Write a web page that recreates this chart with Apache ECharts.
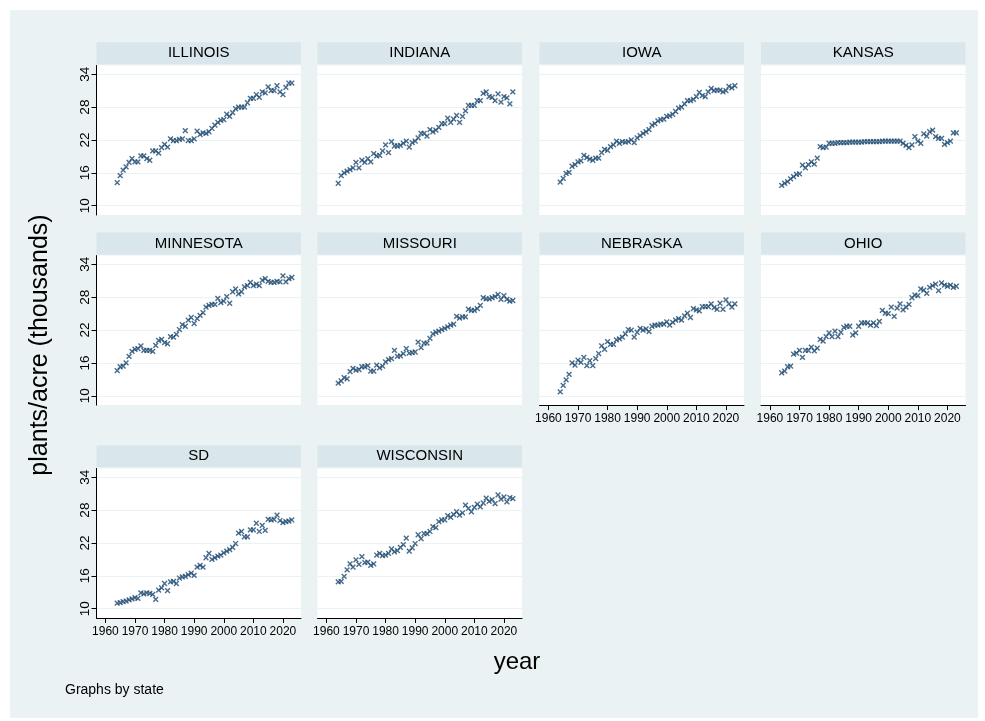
<!DOCTYPE html>
<html>
<head>
<meta charset="utf-8">
<script src="https://cdn.jsdelivr.net/npm/echarts@6/dist/echarts.min.js"></script>
<style>
  html, body { margin: 0; padding: 0; background: #ffffff; }
  #wrap { position: relative; width: 985px; height: 721px; background: #ffffff; }
  #region { position: absolute; left: 10px; top: 10px; width: 968px; height: 708px; background: #eaf2f3; }
  #chart { position: absolute; left: 0; top: 0; width: 985px; height: 721px; }
</style>
</head>
<body>
<div id="wrap">
  <div id="region"></div>
  <div id="chart"></div>
</div>
<script>
// Corn plant population (thousand plants per acre) by state, 1964-2023
const years = [
  1964, 1965, 1966, 1967, 1968, 1969, 1970, 1971, 1972, 1973,
  1974, 1975, 1976, 1977, 1978, 1979, 1980, 1981, 1982, 1983,
  1984, 1985, 1986, 1987, 1988, 1989, 1990, 1991, 1992, 1993,
  1994, 1995, 1996, 1997, 1998, 1999, 2000, 2001, 2002, 2003,
  2004, 2005, 2006, 2007, 2008, 2009, 2010, 2011, 2012, 2013,
  2014, 2015, 2016, 2017, 2018, 2019, 2020, 2021, 2022, 2023
];

const states = ['ILLINOIS', 'INDIANA', 'IOWA', 'KANSAS', 'MINNESOTA',
                'MISSOURI', 'NEBRASKA', 'OHIO', 'SD', 'WISCONSIN'];

const illinois = [
  14.2, 15.5, 16.5, 17.1, 17.9, 18.6, 18.0, 18.0, 19.1, 19.1,
  18.6, 18.3, 20.0, 20.0, 19.6, 20.6, 21.2, 20.7, 22.2, 21.9,
  21.9, 22.1, 22.2, 23.7, 21.9, 21.9, 22.2, 23.6, 23.0, 23.3,
  23.2, 23.5, 24.1, 24.7, 25.2, 25.6, 25.7, 26.7, 26.3, 27.0,
  27.7, 28.0, 28.0, 28.0, 28.8, 29.6, 29.6, 30.3, 29.8, 30.8,
  30.6, 31.7, 31.0, 31.0, 31.9, 30.8, 30.3, 31.6, 32.4, 32.4
];
const indiana = [
  14.1, 15.5, 16.0, 16.3, 16.6, 16.9, 17.9, 16.9, 18.3, 17.9,
  18.6, 18.0, 19.5, 19.1, 19.2, 20.0, 21.1, 19.7, 21.7, 20.9,
  20.9, 21.0, 21.4, 21.8, 20.7, 21.5, 21.8, 22.4, 23.2, 23.2,
  22.7, 23.9, 23.5, 23.8, 24.3, 25.0, 25.0, 26.0, 25.2, 25.8,
  26.5, 25.2, 26.3, 27.3, 28.3, 28.3, 28.3, 29.2, 29.2, 30.5,
  30.8, 29.9, 29.8, 29.2, 30.4, 28.9, 29.9, 29.7, 28.6, 30.8
];
const iowa = [
  14.3, 15.0, 15.9, 16.1, 17.2, 17.5, 18.0, 18.2, 19.2, 18.8,
  18.5, 18.3, 18.7, 18.7, 19.7, 20.3, 20.1, 20.8, 21.1, 21.8,
  21.4, 21.7, 21.6, 21.7, 22.0, 21.5, 22.4, 22.8, 23.2, 23.5,
  23.9, 24.7, 25.0, 25.5, 25.7, 25.8, 26.3, 26.4, 26.7, 27.2,
  27.8, 28.0, 28.6, 29.2, 29.2, 29.4, 29.9, 30.7, 30.1, 29.9,
  30.8, 31.4, 31.0, 31.1, 31.1, 30.8, 31.0, 31.8, 31.5, 31.9
];
const kansas = [
  13.7, 14.1, 14.4, 14.9, 15.3, 15.7, 15.8, 17.4, 16.9, 17.5,
  18.0, 17.6, 18.7, 20.8, 20.6, 20.7, 21.4, 21.4, 21.4, 21.5,
  21.5, 21.5, 21.5, 21.6, 21.6, 21.6, 21.6, 21.6, 21.7, 21.7,
  21.7, 21.7, 21.7, 21.7, 21.8, 21.8, 21.8, 21.8, 21.8, 21.8,
  21.8, 21.4, 21.0, 20.6, 21.1, 22.6, 21.8, 21.4, 23.1, 22.7,
  23.5, 23.8, 22.6, 22.3, 22.3, 21.2, 21.5, 21.8, 23.3, 23.3
];
const minnesota = [
  14.6, 15.3, 15.4, 16.0, 17.2, 18.1, 18.5, 18.6, 19.1, 18.3,
  18.3, 18.3, 18.1, 19.2, 20.1, 20.3, 19.7, 19.5, 20.8, 20.7,
  21.2, 22.1, 23.0, 22.7, 23.8, 24.3, 23.2, 24.1, 24.7, 25.2,
  26.2, 26.5, 26.7, 26.7, 27.8, 27.0, 27.3, 28.1, 26.9, 29.0,
  29.5, 28.6, 29.0, 29.9, 30.1, 30.7, 30.1, 30.4, 30.1, 31.1,
  31.4, 30.9, 30.7, 30.7, 30.9, 30.8, 31.9, 30.8, 31.4, 31.6
];
const missouri = [
  12.3, 12.7, 13.3, 13.1, 14.4, 15.0, 14.7, 14.8, 15.3, 15.3,
  15.5, 14.5, 14.5, 15.6, 15.1, 15.4, 16.2, 16.6, 16.8, 18.3,
  17.2, 17.3, 17.7, 18.6, 17.8, 17.9, 18.0, 19.8, 18.8, 19.6,
  19.6, 20.5, 21.3, 21.6, 21.8, 22.1, 22.3, 22.6, 22.9, 23.1,
  24.5, 24.2, 24.4, 24.4, 25.8, 25.6, 25.6, 25.9, 26.5, 27.9,
  27.7, 27.7, 27.9, 28.1, 28.5, 27.6, 28.3, 27.6, 27.3, 27.4
];
const nebraska = [
  10.7, 11.9, 12.9, 13.9, 16.0, 15.6, 16.5, 16.1, 17.0, 15.5,
  16.4, 15.5, 16.8, 17.7, 19.1, 18.5, 19.9, 19.4, 19.4, 20.2,
  20.4, 20.7, 21.3, 22.1, 22.0, 20.7, 21.6, 22.3, 22.0, 22.2,
  21.7, 22.7, 22.9, 22.9, 23.1, 23.1, 23.5, 22.9, 23.4, 23.8,
  24.1, 23.8, 24.6, 25.1, 24.3, 25.9, 25.7, 25.5, 26.3, 26.3,
  26.3, 26.8, 26.1, 25.8, 26.9, 25.8, 27.5, 26.8, 26.2, 26.8
];
const ohio = [
  14.2, 14.5, 15.3, 15.4, 17.6, 17.8, 18.3, 17.0, 18.3, 18.3,
  18.9, 18.2, 18.7, 20.3, 20.0, 20.8, 21.5, 20.8, 21.8, 20.8,
  21.6, 22.5, 22.7, 22.7, 21.1, 21.5, 22.7, 23.3, 23.3, 23.3,
  22.9, 23.3, 22.8, 23.6, 25.6, 25.1, 25.0, 26.2, 24.5, 26.0,
  26.8, 25.7, 26.2, 26.7, 27.9, 28.4, 28.3, 29.5, 29.3, 28.7,
  29.8, 30.1, 30.4, 29.2, 30.6, 30.2, 30.0, 30.2, 29.8, 30.0
];
const sd = [
  11.0, 11.1, 11.3, 11.4, 11.6, 11.8, 12.0, 11.9, 12.9, 12.7,
  12.9, 12.8, 12.6, 11.7, 13.4, 13.8, 14.6, 13.3, 14.9, 15.0,
  14.6, 15.6, 15.8, 15.9, 16.2, 16.5, 16.1, 17.6, 17.9, 17.6,
  19.3, 20.1, 19.0, 19.3, 19.6, 19.8, 20.2, 20.5, 20.8, 21.2,
  21.9, 23.8, 24.1, 23.1, 23.1, 24.4, 24.4, 25.6, 24.1, 25.2,
  24.3, 26.3, 26.2, 26.3, 27.1, 26.1, 25.7, 25.9, 26.0, 26.2
];
const wisconsin = [
  14.9, 15.0, 15.9, 17.1, 18.2, 17.6, 18.9, 18.1, 19.5, 18.4,
  18.5, 17.9, 18.2, 19.8, 20.1, 19.7, 19.8, 20.1, 20.9, 20.4,
  20.6, 21.2, 21.7, 22.9, 20.5, 21.1, 21.9, 23.5, 22.8, 23.7,
  23.7, 24.1, 25.0, 24.8, 25.9, 26.2, 26.2, 27.0, 26.7, 27.2,
  27.7, 27.1, 27.5, 28.9, 28.3, 27.7, 28.5, 29.1, 28.6, 29.3,
  30.2, 29.6, 29.9, 29.2, 30.8, 30.0, 30.4, 29.5, 30.3, 30.1
];

const stateValues = [illinois, indiana, iowa, kansas, minnesota,
                     missouri, nebraska, ohio, sd, wisconsin];

const yTicks = [10, 16, 22, 28, 34];
const xTicks = [1960, 1970, 1980, 1990, 2000, 2010, 2020];

// panel layout (4 columns x 3 rows)
const FONT = "'Liberation Sans', Arial, Helvetica, sans-serif";
const NAVY = '#1a476f';
const colLeft = [96.5, 317.5, 539.5, 761];
const rowTop = [65.5, 255.6, 468.5];
const plotW = 204.5;
const plotH = 149.5;
const stripH = 22;

const showXAxis = [false, false, false, false, false, false, true, true, true, true];
const crossMark = 'path://M0,0L10,10M10,0L0,10';
const plainNumber = function (v) { return String(v); };

const grids = [], xAxes = [], yAxes = [], series = [], graphics = [];

states.forEach(function (name, i) {
  const row = Math.floor(i / 4), col = i % 4;
  const left = colLeft[col], top = rowTop[row];
  const showY = col === 0;
  const showX = showXAxis[i];

  grids.push({
    left: left, top: top, width: plotW, height: plotH,
    show: true, backgroundColor: '#ffffff', borderWidth: 0,
    containLabel: false
  });

  xAxes.push({
    gridIndex: i, type: 'value', min: 1957, max: 2026.1,
    axisLine: { show: showX, onZero: false, lineStyle: { color: '#000', width: 1 } },
    axisTick: { show: showX, length: 5, customValues: xTicks, lineStyle: { color: '#000', width: 1 } },
    axisLabel: { show: showX, customValues: xTicks, formatter: plainNumber, fontSize: 12, color: '#000', margin: 8, fontFamily: FONT },
    splitLine: { show: false }
  });

  yAxes.push({
    gridIndex: i, type: 'value', min: 8.3, max: 35.6,
    axisLine: { show: showY, onZero: false, lineStyle: { color: '#000', width: 1 } },
    axisTick: { show: showY, length: 5, customValues: yTicks, lineStyle: { color: '#000', width: 1 } },
    axisLabel: { show: showY, customValues: yTicks, formatter: plainNumber, rotate: 90, fontSize: 13.5, color: '#000', margin: 4, fontFamily: FONT },
    splitLine: { show: true, lineStyle: { color: '#eaf2f3', width: 1.2 } }
  });

  series.push({
    type: 'scatter', xAxisIndex: i, yAxisIndex: i,
    data: years.map(function (y, k) { return [y, stateValues[i][k]]; }),
    symbol: crossMark, symbolSize: 4.8,
    itemStyle: { color: NAVY, borderColor: NAVY, borderWidth: 1.4 },
    emphasis: { disabled: true },
    animation: false
  });

  // panel heading strip
  graphics.push({
    type: 'rect', silent: true,
    shape: { x: left, y: top - stripH - 1.2, width: plotW, height: stripH },
    style: { fill: '#d9e6eb' }
  });
  graphics.push({
    type: 'text', silent: true,
    x: left + plotW / 2, y: top - stripH / 2 - 1.2,
    style: { text: name, fill: '#000', font: '15px ' + FONT, align: 'center', verticalAlign: 'middle' }
  });
});

// axis titles and note
graphics.push({
  type: 'text', silent: true, x: 40, y: 345, rotation: Math.PI / 2,
  style: { text: 'plants/acre (thousands)', fill: '#000', font: '25px ' + FONT, align: 'center', verticalAlign: 'middle' }
});
graphics.push({
  type: 'text', silent: true, x: 517, y: 662,
  style: { text: 'year', fill: '#000', font: '24px ' + FONT, align: 'center', verticalAlign: 'middle' }
});
graphics.push({
  type: 'text', silent: true, x: 65, y: 690,
  style: { text: 'Graphs by state', fill: '#000', font: '14px ' + FONT, align: 'left', verticalAlign: 'middle' }
});

const chart = echarts.init(document.getElementById('chart'), null, { renderer: 'canvas' });
chart.setOption({
  backgroundColor: 'transparent',
  animation: false,
  grid: grids,
  xAxis: xAxes,
  yAxis: yAxes,
  series: series,
  graphic: { elements: graphics }
});
</script>
</body>
</html>
